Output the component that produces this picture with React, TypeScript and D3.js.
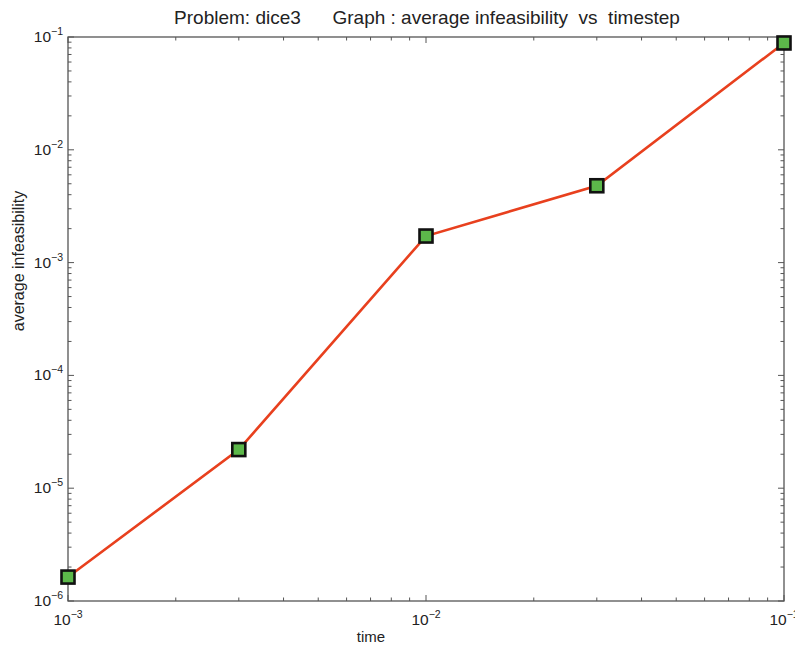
import * as d3 from 'd3';
import { useEffect, useRef } from 'react';

const timesteps = [0.001, 0.003, 0.01, 0.03, 0.1];
const infeasibility = [1.63e-6, 2.2e-5, 1.72e-3, 4.8e-3, 0.0885];
const xTickExps = [-3, -2, -1];
const yTickExps = [-6, -5, -4, -3, -2, -1];

export default function App() {
    const svgRef = useRef<SVGSVGElement>(null);

    useEffect(() => {
        if (!svgRef.current) return;
        const svg = d3.select(svgRef.current);
        svg.selectAll('*').remove();

        const width = 795;
        const height = 651;
        const margin = { top: 37, right: 11, bottom: 50, left: 68 };
        const innerW = width - margin.left - margin.right;
        const innerH = height - margin.top - margin.bottom;
        const font = 'Liberation Sans, Arial, sans-serif';
        const axisColor = '#555';

        const x = d3.scaleLog().domain([1e-3, 1e-1]).range([0, innerW]);
        const y = d3.scaleLog().domain([1e-6, 1e-1]).range([innerH, 0]);

        const g = svg.append('g')
            .attr('transform', `translate(${margin.left}, ${margin.top})`);

        // minor + major ticks, inward on all four sides
        const xMinor = x.ticks().filter(v => v >= 1e-3 && v <= 1e-1);
        const yMinor = y.ticks().filter(v => v >= 1e-6 && v <= 1e-1);
        const isMajor = (v: number) => Math.abs(Math.log10(v) - Math.round(Math.log10(v))) < 1e-6;

        xMinor.forEach(v => {
            const len = isMajor(v) ? 6 : 3.5;
            g.append('line').attr('x1', x(v)).attr('x2', x(v)).attr('y1', innerH).attr('y2', innerH - len)
                .attr('stroke', axisColor).attr('stroke-width', 1);
            g.append('line').attr('x1', x(v)).attr('x2', x(v)).attr('y1', 0).attr('y2', len)
                .attr('stroke', axisColor).attr('stroke-width', 1);
        });
        yMinor.forEach(v => {
            const len = isMajor(v) ? 6 : 3.5;
            g.append('line').attr('x1', 0).attr('x2', len).attr('y1', y(v)).attr('y2', y(v))
                .attr('stroke', axisColor).attr('stroke-width', 1);
            g.append('line').attr('x1', innerW).attr('x2', innerW - len).attr('y1', y(v)).attr('y2', y(v))
                .attr('stroke', axisColor).attr('stroke-width', 1);
        });

        g.append('rect')
            .attr('width', innerW).attr('height', innerH)
            .attr('fill', 'none').attr('stroke', axisColor).attr('stroke-width', 1.3);

        // tick labels
        xTickExps.forEach(e => {
            const t = g.append('text')
                .attr('x', x(Math.pow(10, e)))
                .attr('y', innerH + 24)
                .attr('text-anchor', 'middle')
                .attr('font-family', font).attr('font-size', 15.5).attr('fill', '#222');
            t.append('tspan').text('10');
            t.append('tspan').attr('dy', -7).attr('font-size', 10.5).text(`\u2212${Math.abs(e)}`);
        });
        yTickExps.forEach(e => {
            const t = g.append('text')
                .attr('x', -5)
                .attr('y', y(Math.pow(10, e)) + 5)
                .attr('text-anchor', 'end')
                .attr('font-family', font).attr('font-size', 15.5).attr('fill', '#222');
            t.append('tspan').text('10');
            t.append('tspan').attr('dy', -7).attr('font-size', 10.5).text(`\u2212${Math.abs(e)}`);
        });

        // line
        const pts = timesteps.map((t, i) => [t, infeasibility[i]] as [number, number]);
        const line = d3.line<[number, number]>()
            .x(d => x(d[0]))
            .y(d => y(d[1]));

        g.append('path')
            .datum(pts)
            .attr('d', line)
            .attr('fill', 'none')
            .attr('stroke', '#e8401e')
            .attr('stroke-width', 2.6);

        const s = 13;
        g.selectAll('.marker')
            .data(pts)
            .enter().append('rect')
            .attr('class', 'marker')
            .attr('x', d => x(d[0]) - s / 2)
            .attr('y', d => y(d[1]) - s / 2)
            .attr('width', s).attr('height', s)
            .attr('fill', '#5cb84a')
            .attr('stroke', '#111')
            .attr('stroke-width', 2.6);

        // titles
        svg.append('text')
            .attr('x', 427).attr('y', 24)
            .attr('text-anchor', 'middle')
            .attr('font-family', font).attr('font-size', 19).attr('fill', '#222')
            .attr('xml:space', 'preserve')
            .style('white-space', 'pre')
            .text('Problem: dice3      Graph : average infeasibility  vs  timestep');

        svg.append('text')
            .attr('x', 371).attr('y', 642)
            .attr('text-anchor', 'middle')
            .attr('font-family', font).attr('font-size', 15).attr('fill', '#222')
            .text('time');

        svg.append('text')
            .attr('transform', 'translate(24, 261) rotate(-90)')
            .attr('text-anchor', 'middle')
            .attr('font-family', font).attr('font-size', 16).attr('fill', '#222')
            .text('average infeasibility');
    }, []);

    return (
        <svg ref={svgRef} width={795} height={651}
            style={{ position: 'absolute', top: 0, left: 0, background: '#fff', overflow: 'hidden' }} />
    );
}
